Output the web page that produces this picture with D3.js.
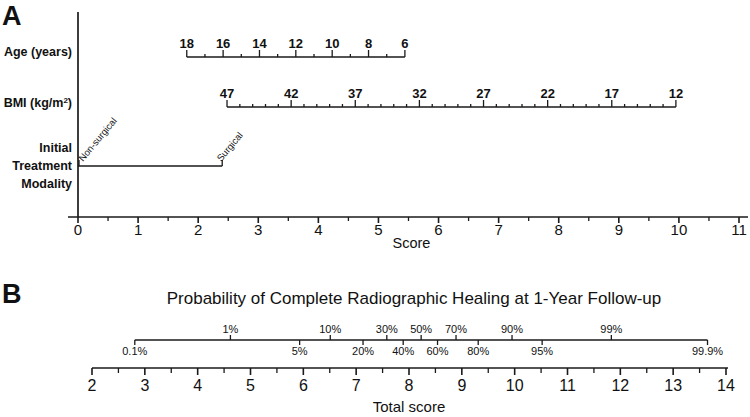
<!DOCTYPE html>
<html><head><meta charset="utf-8">
<script src="https://cdn.jsdelivr.net/npm/d3@7"></script>
<style>
html,body{margin:0;padding:0;background:#fff;}
text{font-family:"Liberation Sans",Arial,Helvetica,sans-serif;fill:#111;}
</style></head>
<body><svg id="c" width="750" height="417"></svg>
<script>
// ---- data ----
const scoreTicks = [0,1,2,3,4,5,6,7,8,9,10,11];
const ageLabels = [18,16,14,12,10,8,6];
const ageRange = [18,6];
const ageScoreRange = [1.81,5.44];
const bmiLabels = [47,42,37,32,27,22,17,12];
const bmiRange = [47,12];
const bmiScoreRange = [2.48,9.95];
const treatCategories = ["Non-surgical","Surgical"];
const treatScores = [0,2.4];
const probLabels = ["0.1%","1%","5%","10%","20%","30%","40%","50%","60%","70%","80%","90%","95%","99%","99.9%"];
const probTotalScores = [2.81,4.62,5.93,6.51,7.13,7.58,7.89,8.23,8.54,8.89,9.31,9.95,10.52,11.83,13.65];
const totalTicks = [2,3,4,5,6,7,8,9,10,11,12,13,14];

const svg = d3.select("#c");
const ink = "#1a1a1a";

// ---- Panel A ----
const xA = d3.scaleLinear().domain([0,11]).range([78,739]);
const axisY = 217;

svg.append("text").attr("x",2).attr("y",25).attr("font-size",27).attr("font-weight","bold").text("A");

svg.append("line").attr("x1",xA(0)).attr("x2",xA(0)).attr("y1",12).attr("y2",axisY).attr("stroke",ink).attr("stroke-width",1.7);

const gA = svg.append("g").attr("transform",`translate(0,${axisY})`);
gA.append("line").attr("x1",68).attr("x2",748).attr("stroke",ink).attr("stroke-width",1.7);
const minorA = d3.range(0.5,11,1);
gA.selectAll(".mn").data(minorA).join("line").attr("x1",d=>xA(d)).attr("x2",d=>xA(d)).attr("y1",0).attr("y2",4).attr("stroke",ink).attr("stroke-width",1.3);
gA.selectAll(".mj").data(scoreTicks).join("line").attr("x1",d=>xA(d)).attr("x2",d=>xA(d)).attr("y1",0).attr("y2",6).attr("stroke",ink).attr("stroke-width",1.6);
gA.selectAll(".tl").data(scoreTicks).join("text").attr("x",d=>xA(d)).attr("y",18).attr("text-anchor","middle").attr("font-size",15).text(d=>d);
svg.append("text").attr("x",xA(5.55)).attr("y",248).attr("text-anchor","middle").attr("font-size",14.5).text("Score");

function rowLabel(lines, yc){
  const t = svg.append("text").attr("text-anchor","end").attr("font-size",12.5).attr("font-weight","bold");
  lines.forEach((l,i)=>{
    const ts = t.append("tspan").attr("x",72).attr("y",yc + (i-(lines.length-1)/2)*18 + 4);
    if(typeof l === "string") ts.text(l); else l(ts);
  });
}
rowLabel(["Age (years)"],52);
rowLabel([ts=>{ts.text("BMI (kg/m");ts.append("tspan").attr("font-size",8).attr("dy",-4).text("2");ts.append("tspan").attr("dy",4).text(")");}],103);
rowLabel(["Initial","Treatment","Modality"],166);

// Age row
const ageToScore = d3.scaleLinear().domain(ageRange).range(ageScoreRange);
const ageY = 57;
const gAge = svg.append("g");
gAge.append("line").attr("x1",xA(ageToScore(18))).attr("x2",xA(ageToScore(6))).attr("y1",ageY).attr("y2",ageY).attr("stroke",ink).attr("stroke-width",1.5);
const ageAll = d3.range(18,5,-1);
gAge.selectAll(".t").data(ageAll).join("line")
  .attr("x1",d=>xA(ageToScore(d))).attr("x2",d=>xA(ageToScore(d)))
  .attr("y1",ageY).attr("y2",d=>ageLabels.includes(d)?ageY-7:ageY-3).attr("stroke",ink).attr("stroke-width",1.3);
gAge.selectAll(".l").data(ageLabels).join("text").attr("x",d=>xA(ageToScore(d))).attr("y",ageY-9).attr("text-anchor","middle").attr("font-size",13).attr("font-weight","bold").text(d=>d);

// BMI row
const bmiToScore = d3.scaleLinear().domain(bmiRange).range(bmiScoreRange);
const bmiY = 107;
const gBmi = svg.append("g");
gBmi.append("line").attr("x1",xA(bmiToScore(47))).attr("x2",xA(bmiToScore(12))).attr("y1",bmiY).attr("y2",bmiY).attr("stroke",ink).attr("stroke-width",1.5);
const bmiAll = d3.range(47,11,-1);
gBmi.selectAll(".t").data(bmiAll).join("line")
  .attr("x1",d=>xA(bmiToScore(d))).attr("x2",d=>xA(bmiToScore(d)))
  .attr("y1",bmiY).attr("y2",d=>bmiLabels.includes(d)?bmiY-7:bmiY-3).attr("stroke",ink).attr("stroke-width",1.3);
gBmi.selectAll(".l").data(bmiLabels).join("text").attr("x",d=>xA(bmiToScore(d))).attr("y",bmiY-9).attr("text-anchor","middle").attr("font-size",13).attr("font-weight","bold").text(d=>d);

// Treatment row
const trY = 166;
const gTr = svg.append("g");
gTr.append("line").attr("x1",xA(treatScores[0])).attr("x2",xA(treatScores[1])).attr("y1",trY).attr("y2",trY).attr("stroke",ink).attr("stroke-width",1.5);
gTr.selectAll(".t").data(treatScores).join("line").attr("x1",d=>xA(d)+(d===0?1:0)).attr("x2",d=>xA(d)+(d===0?1:0)).attr("y1",trY).attr("y2",trY-6).attr("stroke",ink).attr("stroke-width",1.3);
gTr.selectAll(".l").data(treatCategories).join("text")
  .attr("transform",(d,i)=>`translate(${xA(treatScores[i])+(i===0?5:-1)},${trY-4}) rotate(-50)`)
  .attr("font-size",9.5).text(d=>d);

// ---- Panel B ----
svg.append("text").attr("x",2).attr("y",303).attr("font-size",27).attr("font-weight","bold").text("B");
svg.append("text").attr("x",414).attr("y",304).attr("text-anchor","middle").attr("font-size",17).text("Probability of Complete Radiographic Healing at 1-Year Follow-up");

const xB = d3.scaleLinear().domain([2,14]).range([92,726]);
const pY = 340;
const gP = svg.append("g");
gP.append("line").attr("x1",xB(probTotalScores[0])).attr("x2",xB(probTotalScores[probTotalScores.length-1])).attr("y1",pY).attr("y2",pY).attr("stroke",ink).attr("stroke-width",1.6);
gP.selectAll(".t").data(probTotalScores).join("line")
  .attr("x1",d=>xB(d)).attr("x2",d=>xB(d)).attr("y1",pY).attr("y2",(d,i)=>i%2?pY-5:pY+5).attr("stroke",ink).attr("stroke-width",1.3);
gP.selectAll(".l").data(probLabels).join("text")
  .attr("x",(d,i)=>xB(probTotalScores[i])).attr("y",(d,i)=>i%2?pY-7:pY+15)
  .attr("text-anchor","middle").attr("font-size",11).text(d=>d);

const tY = 368;
const gT = svg.append("g").attr("transform",`translate(0,${tY})`);
gT.append("line").attr("x1",xB(2)).attr("x2",xB(14)+2).attr("stroke",ink).attr("stroke-width",1.7);
gT.selectAll(".mn").data(d3.range(2.5,14,1)).join("line").attr("x1",d=>xB(d)).attr("x2",d=>xB(d)).attr("y1",0).attr("y2",5).attr("stroke",ink).attr("stroke-width",1.3);
gT.selectAll(".mj").data(totalTicks).join("line").attr("x1",d=>xB(d)).attr("x2",d=>xB(d)).attr("y1",0).attr("y2",7).attr("stroke",ink).attr("stroke-width",1.6);
gT.selectAll(".tl").data(totalTicks).join("text").attr("x",d=>xB(d)).attr("y",23).attr("text-anchor","middle").attr("font-size",16).text(d=>d);
svg.append("text").attr("x",409).attr("y",412).attr("text-anchor","middle").attr("font-size",15).text("Total score");
</script></body></html>
